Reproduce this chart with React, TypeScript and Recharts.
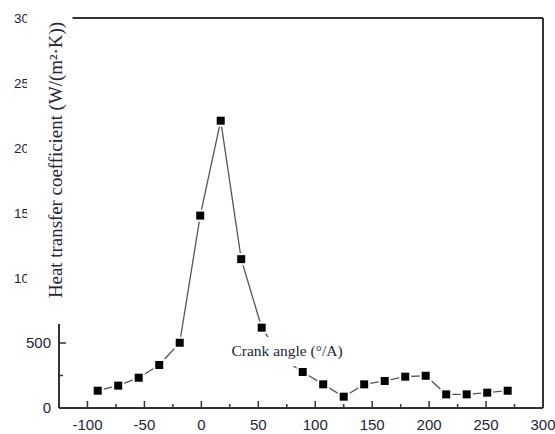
import { Line, LineChart, ReferenceLine, XAxis, YAxis } from "recharts";

const angles = [-91, -73, -55, -37, -19, -1, 17, 35, 53, 71, 89, 107, 125, 143, 161, 179, 197, 215, 233, 251, 269];
const coefficients = [133, 172, 233, 331, 502, 1480, 2210, 1145, 618, 380, 277, 182, 87, 182, 208, 241, 248, 105, 105, 118, 133];
const xTicks = [-100, -75, -50, -25, 0, 25, 50, 75, 100, 125, 150, 175, 200, 225, 250, 275, 300];
const yTicks = [0, 250, 500, 750, 1000, 1250, 1500, 1750, 2000, 2250, 2500, 2750, 3000];
const yTitle = "Heat transfer coefficient (W/(m²·K))";
const xTitle = "Crank angle (°/A)";

const data = angles.map((a, i) => ({ angle: a, h: coefficients[i] }));

const W = 555;
const H = 434;
const LEFT = 59;
const BOTTOM = 408;
const AXIS = "#333";
const TXT = "#22243a";

const XTick = (props: any) => {
    const { x, payload } = props;
    const v = payload.value;
    const major = v % 50 === 0;
    return (
        <g>
            <line x1={x} x2={x} y1={BOTTOM} y2={BOTTOM - (major ? 7 : 4)} stroke={AXIS} strokeWidth={1.5} />
            {major && (
                <text
                    x={x}
                    y={430}
                    textAnchor="middle"
                    fontSize={15}
                    fontFamily="Liberation Sans, Arial, sans-serif"
                    fill={TXT}
                >
                    {v}
                </text>
            )}
        </g>
    );
};

const YTick = (props: any) => {
    const { y, payload } = props;
    const v = payload.value;
    const major = v % 500 === 0;
    let label = null;
    if (major) {
        // upper labels sit further left and get cut by the white patch
        const cut = v >= 1000;
        label = (
            <text
                x={cut ? 14 : 51}
                y={y + 5}
                textAnchor={cut ? "start" : "end"}
                fontSize={cut ? 13.5 : 15}
                fontFamily="Liberation Sans, Arial, sans-serif"
                fill={TXT}
            >
                {v}
            </text>
        );
    }
    return (
        <g>
            <line x1={LEFT} x2={LEFT + (major ? 7 : 4)} y1={y} y2={y} stroke={AXIS} strokeWidth={1.5} />
            {label}
        </g>
    );
};

const Marker = (props: any) => {
    const { cx, cy, index } = props;
    return (
        <g key={`m${index}`}>
            <rect x={cx - 6} y={cy - 6} width={12} height={12} fill="#fff" />
            <rect x={cx - 4} y={cy - 4} width={8} height={8} fill="#000" />
        </g>
    );
};

export default function App() {
    return (
        <div style={{ position: "absolute", left: 0, top: 0, width: W, height: H, background: "#fff" }}>
            <LineChart width={W} height={H} data={data} margin={{ top: 18, right: 12, bottom: 0, left: 0 }}>
                <XAxis
                    dataKey="angle"
                    type="number"
                    domain={[-125, 300]}
                    ticks={xTicks}
                    interval={0}
                    height={26}
                    tickLine={false}
                    axisLine={{ stroke: AXIS, strokeWidth: 2 }}
                    tick={<XTick />}
                />
                <YAxis
                    type="number"
                    domain={[0, 3000]}
                    ticks={yTicks}
                    interval={0}
                    width={59}
                    tickLine={false}
                    axisLine={{ stroke: AXIS, strokeWidth: 2 }}
                    tick={<YTick />}
                />
                <ReferenceLine y={3000} stroke={AXIS} strokeWidth={2} />
                <ReferenceLine x={300} stroke={AXIS} strokeWidth={2} />
                <Line
                    dataKey="h"
                    type="linear"
                    stroke="#555"
                    strokeWidth={1.3}
                    dot={<Marker />}
                    isAnimationActive={false}
                />
            </LineChart>
            <svg width={W} height={H} style={{ position: "absolute", left: 0, top: 0, pointerEvents: "none" }}>
                <rect x={27} y={0} width={45.5} height={324} fill="#fff" />
                <text
                    transform="translate(62,160) rotate(-90)"
                    textAnchor="middle"
                    fontSize={18}
                    fontFamily="Liberation Serif, Times New Roman, serif"
                    fill={TXT}
                    textLength={276}
                    lengthAdjust="spacingAndGlyphs"
                >
                    {yTitle}
                </text>
                <rect x={232} y={337} width={110} height={29} fill="#fff" />
                <text
                    x={287}
                    y={356}
                    textAnchor="middle"
                    fontSize={15.5}
                    fontFamily="Liberation Serif, Times New Roman, serif"
                    fill={TXT}
                >
                    {xTitle}
                </text>
            </svg>
        </div>
    );
}
